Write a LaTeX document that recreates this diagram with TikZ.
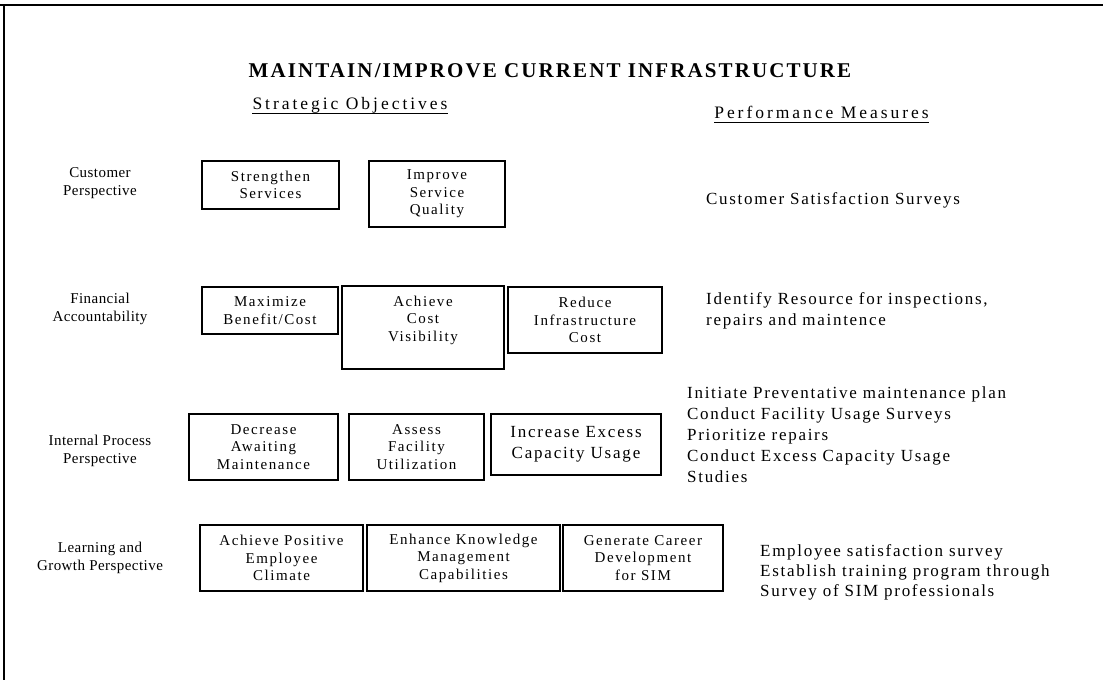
\documentclass[tikz,border=0pt]{standalone}
\usepackage{fontspec}
\setmainfont{Liberation Serif}
\newfontfamily\titlefont{Liberation Serif}[LetterSpace=10]
\newfontfamily\headfont{Liberation Serif}[LetterSpace=17]
\newfontfamily\objfont{Liberation Serif}[LetterSpace=10.5]
\newfontfamily\sidefont{Liberation Serif}[LetterSpace=3]
\newfontfamily\measfont{Liberation Serif}[LetterSpace=10]
\usetikzlibrary{positioning}

\begin{document}
\begin{tikzpicture}[x=1pt, y=-1pt,
    objtext/.style={inner sep=0pt, align=center, font=\objfont\fontsize{15}{17.5}\selectfont},
    objbox/.style={objtext, draw, line width=2.6pt},
    sidelabel/.style={inner sep=0pt, align=center, font=\sidefont\fontsize{15}{18}\selectfont},
    measure/.style={anchor=north west, inner sep=0pt, align=left, font=\measfont\fontsize{17}{21}\selectfont},
    heading/.style={anchor=base, inner sep=0pt, font=\headfont\fontsize{17.5}{21}\selectfont},
    underline/.style={line width=1.8pt}]
\useasboundingbox (0,0) rectangle (1103,680);
% page frame
\draw[line width=2pt] (0,5) -- (1103,5);
\draw[line width=2pt] (4,5) -- (4,680);

\node[anchor=base, inner sep=0pt, font=\titlefont\bfseries\fontsize{21}{25}\selectfont] (title) at (550,77.5) {MAINTAIN/IMPROVE CURRENT INFRASTRUCTURE};
\node[heading] (objhead) at (350,109) {Strategic Objectives};
\node[heading] (meashead) at (821.5,118) {Performance Measures};
\draw[underline] ([yshift=-4.5pt]objhead.base west) -- ([yshift=-4.5pt]objhead.base east);
\draw[underline] ([yshift=-4.5pt]meashead.base west) -- ([yshift=-4.5pt]meashead.base east);

% perspectives
\node[sidelabel] (cust) at (100,183) {Customer\\Perspective};
\node[sidelabel] (fin) at (100,309) {Financial\\Accountability};
\node[sidelabel] (intproc) at (100,451) {Internal Process\\Perspective};
\node[sidelabel] (learn) at (100,558) {Learning and\\Growth Perspective};

% objectives
\node[objbox, minimum width=137, minimum height=48] (strengthen) at (270.5,185) {Strengthen\\Services};
\node[objbox, minimum width=136, minimum height=66] (improve) at (437,194) {Improve\\Service\\Quality};

\node[objbox, minimum width=136, minimum height=47] (maximize) at (270,310.5) {Maximize\\Benefit/Cost};
\node[objbox, minimum width=162, minimum height=83] (achieve) at (423,327.5) {};
\node[objtext] (achievetext) at (423,320) {Achieve\\Cost\\Visibility};
\node[objbox, minimum width=154, minimum height=66] (reduce) at (585,320) {Reduce\\Infrastructure\\Cost};

\node[objbox, minimum width=149, minimum height=66] (decrease) at (263.5,447) {Decrease\\Awaiting\\Maintenance};
\node[objbox, minimum width=135, minimum height=66] (assess) at (416.5,447) {Assess\\Facility\\Utilization};
\node[objbox, minimum width=170, minimum height=61, font=\objfont\fontsize{17}{21.5}\selectfont] (increase) at (576,444.5) {Increase Excess\\Capacity Usage};

\node[objbox, minimum width=163, minimum height=66] (positive) at (281.5,558) {Achieve Positive\\Employee\\Climate};
\node[objbox, minimum width=193, minimum height=66] (knowledge) at (463.5,558) {Enhance Knowledge\\Management\\Capabilities};
\node[objbox, minimum width=160, minimum height=66] (career) at (643,558) {Generate Career\\Development\\for SIM};

% measures
\node[measure] (custmeas) at (706,192) {Customer Satisfaction Surveys};
\node[measure] (finmeas) at (706,292) {Identify Resource for inspections,\\repairs and maintence};
\node[measure] (intmeas) at (687,386) {Initiate Preventative maintenance plan\\Conduct Facility Usage Surveys\\Prioritize repairs\\Conduct Excess Capacity Usage\\Studies};
\node[measure, font=\measfont\fontsize{17}{20}\selectfont] (learnmeas) at (760,544) {Employee satisfaction survey\\Establish training program through\\Survey of SIM professionals};
\end{tikzpicture}
\end{document}
